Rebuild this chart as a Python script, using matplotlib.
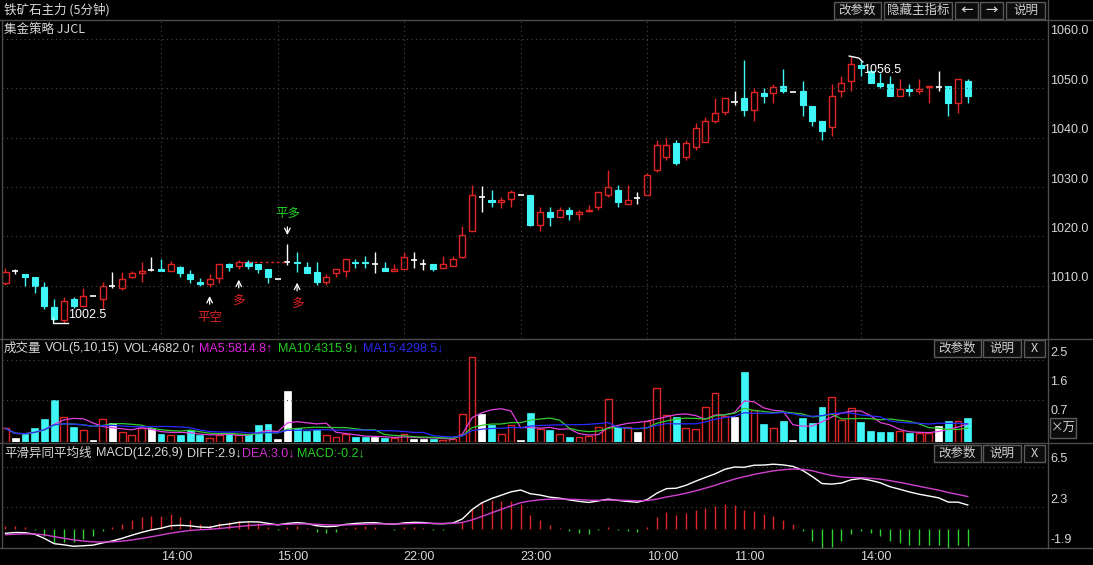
import numpy as np
import matplotlib
matplotlib.use("Agg")
import matplotlib.pyplot as plt
from matplotlib.patches import Rectangle
from matplotlib.lines import Line2D

plt.rcParams['font.family'] = ['Noto Sans CJK SC', 'DejaVu Sans']
LATIN = ['Liberation Sans', 'DejaVu Sans']

# ---- data (5 minute bars, iron ore main contract) ----
open_ = [1010.5, 1012.9, 1012.4, 1011.7, 1009.8, 1005.8, 1003.0, 1007.3, 1006.0, 1007.9,
         1007.3, 1010.0, 1009.5, 1011.8, 1012.6, 1013.2, 1013.4, 1012.9, 1013.9, 1012.4,
         1010.8, 1010.4, 1011.5, 1014.5, 1014.0, 1014.8, 1014.4, 1013.4, 1011.3, 1014.8,
         1014.8, 1013.9, 1012.7, 1010.8, 1012.5, 1012.9, 1014.9, 1014.9, 1014.4, 1013.7,
         1012.9, 1013.4, 1015.2, 1014.5, 1014.4, 1013.5, 1014.0, 1015.8, 1021.0, 1027.9,
         1027.4, 1027.0, 1027.5, 1028.4, 1028.4, 1022.4, 1025.0, 1024.0, 1025.3, 1024.5,
         1025.1, 1026.0, 1028.4, 1029.4, 1026.5, 1027.7, 1028.4, 1033.5, 1036.0, 1038.9,
         1036.1, 1038.0, 1039.1, 1043.4, 1045.1, 1047.3, 1048.0, 1045.5, 1049.0, 1049.1,
         1050.4, 1049.3, 1049.4, 1046.4, 1043.4, 1042.1, 1049.4, 1051.5, 1054.7, 1053.5,
         1051.0, 1050.8, 1048.5, 1049.9, 1049.5, 1050.2, 1050.3, 1050.5, 1047.1, 1051.4]
high = [1013.7, 1013.4, 1012.4, 1011.7, 1010.7, 1007.3, 1007.8, 1007.7, 1009.5, 1007.9,
        1010.7, 1012.7, 1012.7, 1013.0, 1014.8, 1015.9, 1015.4, 1015.0, 1014.0, 1013.2,
        1011.6, 1012.4, 1014.4, 1014.6, 1015.2, 1015.3, 1014.4, 1013.4, 1011.3, 1018.5,
        1016.9, 1014.8, 1014.8, 1012.3, 1013.4, 1015.4, 1015.5, 1016.0, 1016.9, 1014.8,
        1014.4, 1016.9, 1016.9, 1015.5, 1014.4, 1016.0, 1016.0, 1022.0, 1030.4, 1030.1,
        1029.4, 1028.0, 1029.4, 1028.4, 1028.4, 1025.9, 1025.9, 1025.9, 1025.9, 1025.3,
        1026.4, 1028.9, 1033.4, 1030.4, 1030.4, 1029.0, 1032.8, 1039.5, 1040.0, 1039.5,
        1039.5, 1043.0, 1044.2, 1048.0, 1048.0, 1049.4, 1055.8, 1050.0, 1050.0, 1050.9,
        1053.8, 1049.3, 1051.4, 1046.4, 1043.4, 1050.9, 1052.4, 1056.5, 1055.6, 1053.5,
        1053.0, 1052.4, 1051.8, 1050.9, 1051.8, 1050.4, 1053.5, 1050.5, 1051.8, 1051.8]
low = [1010.2, 1012.3, 1010.0, 1008.5, 1005.4, 1003.0, 1002.5, 1005.6, 1005.8, 1007.9,
       1005.4, 1009.5, 1009.1, 1011.5, 1010.8, 1012.9, 1012.9, 1012.9, 1011.8, 1010.5,
       1010.0, 1009.7, 1010.5, 1012.9, 1013.4, 1013.4, 1012.5, 1010.5, 1011.3, 1014.2,
       1012.7, 1012.5, 1010.2, 1010.2, 1011.8, 1011.8, 1013.6, 1013.6, 1012.5, 1012.9,
       1012.9, 1013.4, 1013.6, 1013.2, 1012.9, 1013.5, 1014.0, 1015.6, 1021.0, 1025.0,
       1026.0, 1025.8, 1026.0, 1028.4, 1022.0, 1021.0, 1022.0, 1024.0, 1023.3, 1023.3,
       1025.0, 1025.3, 1028.0, 1026.0, 1026.5, 1026.5, 1028.4, 1033.0, 1035.5, 1034.5,
       1035.5, 1037.5, 1039.1, 1042.9, 1044.6, 1046.6, 1044.4, 1043.4, 1047.1, 1047.1,
       1049.0, 1049.3, 1044.4, 1042.3, 1039.6, 1040.3, 1048.2, 1049.5, 1052.4, 1051.0,
       1050.1, 1048.5, 1048.5, 1048.5, 1048.9, 1047.1, 1049.5, 1044.4, 1045.0, 1047.1]
close = [1012.7, 1012.9, 1011.8, 1010.0, 1006.0, 1003.3, 1006.9, 1006.0, 1007.9, 1007.9,
         1010.0, 1010.0, 1011.3, 1012.5, 1012.9, 1013.2, 1012.9, 1014.4, 1012.5, 1011.4,
         1010.4, 1011.3, 1014.4, 1013.9, 1014.8, 1014.0, 1013.4, 1011.8, 1011.3, 1014.8,
         1014.6, 1012.5, 1010.7, 1011.8, 1013.4, 1015.4, 1014.7, 1014.7, 1014.4, 1012.9,
         1013.4, 1015.8, 1015.2, 1014.5, 1013.4, 1014.4, 1015.4, 1020.3, 1028.4, 1027.9,
         1027.0, 1027.4, 1028.9, 1028.4, 1022.3, 1024.9, 1024.0, 1025.3, 1024.5, 1024.9,
         1025.3, 1028.9, 1029.9, 1027.0, 1027.4, 1027.7, 1032.4, 1038.5, 1038.5, 1034.9,
         1038.9, 1041.9, 1043.4, 1044.9, 1048.0, 1047.3, 1045.5, 1049.3, 1048.5, 1050.3,
         1049.5, 1049.3, 1046.5, 1043.4, 1041.4, 1048.4, 1051.1, 1054.9, 1054.0, 1051.0,
         1050.5, 1048.5, 1049.9, 1049.5, 1049.9, 1050.4, 1050.3, 1047.1, 1051.8, 1048.5]
# volume in 10k lots (x万)
volume = [0.41, 0.10, 0.22, 0.41, 0.68, 1.26, 0.76, 0.45, 0.35, 0.05,
          0.70, 0.56, 0.31, 0.19, 0.41, 0.41, 0.22, 0.19, 0.19, 0.36,
          0.19, 0.12, 0.19, 0.28, 0.19, 0.22, 0.50, 0.53, 0.08, 1.54,
          0.41, 0.33, 0.36, 0.19, 0.15, 0.22, 0.14, 0.15, 0.14, 0.10,
          0.12, 0.22, 0.09, 0.07, 0.09, 0.05, 0.07, 0.86, 2.60, 0.84,
          0.50, 0.24, 0.51, 0.05, 0.87, 0.39, 0.36, 0.22, 0.13, 0.13,
          0.17, 0.44, 1.29, 0.46, 0.44, 0.31, 0.63, 1.63, 0.81, 0.76,
          0.41, 0.38, 1.05, 1.48, 0.78, 0.76, 2.12, 0.97, 0.54, 0.41,
          0.63, 0.05, 0.73, 0.58, 1.05, 1.36, 0.66, 1.02, 0.61, 0.33,
          0.30, 0.30, 0.33, 0.25, 0.25, 0.25, 0.48, 0.63, 0.63, 0.73]

time_ticks = [16, 28, 41, 53, 66, 75, 88]
time_labels = ['14:00', '15:00', '22:00', '23:00', '10:00', '11:00', '14:00']
price_levels = [1010, 1020, 1030, 1040, 1050, 1060]
vol_levels = [0.7, 1.6, 2.5]
macd_levels = [-1.9, 2.3, 6.5]

# trade signals: bar index, label, arrow tip price, label price
buy_signals = [(21, '平空', 1008.5, 1003.5), (24, '多', 1011.8, 1007.0), (30, '多', 1011.2, 1006.4)]
sell_signals = [(29, '平多', 1019.7, 1024.7)]

# MACD(12,26,9) from closes, seeded with the level before the window
def ema(values, span, seed):
    k = 2.0 / (span + 1)
    out = []
    prev = seed
    for v in values:
        prev = prev + k * (v - prev)
        out.append(prev)
    return np.array(out)

diff = ema(close, 12, 1012.2) - ema(close, 26, 1012.7)
dea = ema(diff, 9, -0.6)
macd = 2 * (diff - dea)

vol_arr = np.array(volume)
def rolling(a, n):
    return np.array([a[max(0, i - n + 1):i + 1].mean() for i in range(len(a))])
ma5, ma10, ma15 = rolling(vol_arr, 5), rolling(vol_arr, 10), rolling(vol_arr, 15)

# ---- figure layout (pixel based) ----
W, H = 1093, 565
BG = 'black'
RED = '#e02424'
CYAN = '#3ff5f5'
GRID = '#4a4a4a'
LINE = '#4c4c4c'
TXT = '#d8d8d8'

fig = plt.figure(figsize=(W / 100, H / 100), dpi=100, facecolor=BG)

def fx(x):
    return x / W

def fy(y):
    return 1 - y / H

def panel(y0, y1):
    ax = fig.add_axes([fx(2), fy(y1), fx(1047) - fx(2), fy(y0) - fy(y1)])
    ax.set_facecolor(BG)
    for s in ax.spines.values():
        s.set_visible(False)
    ax.set_xticks([])
    ax.set_yticks([])
    ax.set_xlim(-0.36, 107.15)
    return ax

ax_main = panel(20, 338)
ax_vol = panel(339, 442)
ax_macd = panel(443, 548)
ax_main.set_ylim(999.43, 1063.8)
ax_vol.set_ylim(-0.01, 3.14)
ax_macd.set_ylim(-1.95, 8.94)

n = len(close)
x = np.arange(n)
bw = 0.62

# gridlines
for p in price_levels:
    ax_main.axhline(p, color=GRID, lw=0.8, ls=(0, (1, 3)))
for t in time_ticks:
    ax_main.axvline(t, color=GRID, lw=0.8, ls=(0, (1, 3)))
for v in [2.5, 1.28]:
    ax_vol.axhline(v, color=GRID, lw=0.8, ls=(0, (1, 3)))
for v in [6.5, 2.3]:
    ax_macd.axhline(v, color=GRID, lw=0.8, ls=(0, (1, 3)))

# candles
for i in range(n):
    o, h, l, c = open_[i], high[i], low[i], close[i]
    if c > o:
        ax_main.add_patch(Rectangle((i - bw / 2, o), bw, c - o, fill=False,
                                    edgecolor=RED, lw=1.0))
        ax_main.vlines(i, c, h, color=RED, lw=1.0)
        ax_main.vlines(i, l, o, color=RED, lw=1.0)
    elif c < o:
        ax_main.vlines(i, l, h, color=CYAN, lw=1.0)
        ax_main.add_patch(Rectangle((i - bw / 2, c), bw, o - c, facecolor=CYAN,
                                    edgecolor=CYAN, lw=0.8))
    else:
        ax_main.vlines(i, l, h, color='white', lw=1.0)
        ax_main.hlines(o, i - bw / 2, i + bw / 2, color='white', lw=1.2)

# marks on the price panel
ax_main.plot([4.9, 4.9, 6.4], [1003.5, 1002.5, 1002.5], color='white', lw=1.0)
ax_main.text(6.4, 1004.0, '1002.5', color='white', fontsize=9, ha='left', va='center',
             family=LATIN)
ax_main.plot([86.8, 87.8, 88.2], [1056.5, 1056.1, 1055.3], color='white', lw=1.0)
ax_main.text(88.2, 1053.7, '1056.5', color='white', fontsize=9, ha='left', va='center',
             family=LATIN)
ax_main.plot([24.4, 29], [1014.8, 1014.8], color=RED, lw=1.0, ls=(0, (2, 2)))

for i, label, tip, ty in buy_signals:
    ax_main.annotate('', xy=(i, tip), xytext=(i, tip - 2.8),
                     arrowprops=dict(arrowstyle='->', color='white', lw=0.9))
    ax_main.text(i, ty, label, color=RED, fontsize=9, ha='center', va='center')
for i, label, tip, ty in sell_signals:
    ax_main.annotate('', xy=(i, tip), xytext=(i, tip + 2.8),
                     arrowprops=dict(arrowstyle='->', color='white', lw=0.9))
    ax_main.text(i, ty, label, color='#22d022', fontsize=9, ha='center', va='center')

# volume bars
for i in range(n):
    o, c = open_[i], close[i]
    if c > o:
        ax_vol.add_patch(Rectangle((i - 0.35, 0), 0.7, volume[i], fill=False,
                                   edgecolor=RED, lw=1.0))
    else:
        col = CYAN if c < o else 'white'
        ax_vol.add_patch(Rectangle((i - 0.35, 0), 0.7, volume[i], facecolor=col,
                                   edgecolor=col, lw=0.5))
ax_vol.plot(x, ma5, color='#e040e0', lw=0.9)
ax_vol.plot(x, ma10, color='#30cc30', lw=0.9)
ax_vol.plot(x, ma15, color='#2a2aff', lw=0.9)

# macd
for i in range(n):
    ax_macd.vlines(i, 0, macd[i], color=RED if macd[i] >= 0 else '#33d033', lw=1.0)
ax_macd.plot(x, diff, color='white', lw=1.0)
ax_macd.plot(x, dea, color='#d040d0', lw=1.0)

# right-hand scale labels
for ax, levels in [(ax_main, price_levels), (ax_vol, vol_levels), (ax_macd, macd_levels)]:
    for v in levels:
        ax.annotate('{:.1f}'.format(v), xy=(1.0, v), xycoords=('axes fraction', 'data'),
                    xytext=(2.5, 1), textcoords='offset points', color=TXT,
                    fontsize=9, ha='left', va='bottom', annotation_clip=False,
                    family=LATIN)

# time axis labels
for t, lab in zip(time_ticks, time_labels):
    ax_macd.annotate(lab, xy=(t, 0), xycoords=('data', 'axes fraction'),
                     xytext=(11, -6.3), textcoords='offset points', color=TXT,
                     fontsize=9, ha='center', va='center', annotation_clip=False,
                     family=LATIN)

# separators
def hline(y, x0=0, x1=W, col=LINE):
    fig.lines.append(Line2D([fx(x0), fx(x1)], [fy(y), fy(y)], transform=fig.transFigure,
                            color=col, lw=1.0))

for yy in [20, 338.5, 442.5, 548]:
    hline(yy)
fig.lines.append(Line2D([fx(1047.5), fx(1047.5)], [fy(0), fy(548)], transform=fig.transFigure,
                        color=LINE, lw=1.0))
fig.lines.append(Line2D([fx(1.5), fx(1.5)], [fy(20), fy(548)], transform=fig.transFigure,
                        color=LINE, lw=1.0))

# header texts
fig.text(fx(4), fy(10), '铁矿石主力 (5分钟)', color=TXT, fontsize=9, va='center')
fig.text(fx(4), fy(29), '集金策略 JJCL', color=TXT, fontsize=9, va='center')

fig.text(fx(4), fy(348), '成交量', color=TXT, fontsize=9, va='center')
vol_head = [(45, 'VOL(5,10,15)', TXT), (124, 'VOL:4682.0↑', TXT),
            (199, 'MA5:5814.8↑', '#e020e0'), (278, 'MA10:4315.9↓', '#22cc22'),
            (363, 'MA15:4298.5↓', '#2a2aee')]
for xx, s, col in vol_head:
    fig.text(fx(xx), fy(348), s, color=col, fontsize=9, va='center', family=LATIN)

fig.text(fx(4), fy(453), '平滑异同平均线', color=TXT, fontsize=9, va='center')
macd_head = [(96, 'MACD(12,26,9)', TXT), (187, 'DIFF:2.9↓', TXT),
             (242, 'DEA:3.0↓', '#d030d0'), (297, 'MACD:-0.2↓', '#22cc22')]
for xx, s, col in macd_head:
    fig.text(fx(xx), fy(453), s, color=col, fontsize=9, va='center', family=LATIN)

# buttons
def button(x0, y0, x1, y1, label, bold=False):
    fig.patches.append(Rectangle((fx(x0), fy(y1)), fx(x1) - fx(x0), fy(y0) - fy(y1),
                                 transform=fig.transFigure, facecolor='#0c0c0c',
                                 edgecolor='#5a5a5a', lw=1.0))
    fig.text(fx((x0 + x1) / 2), fy((y0 + y1) / 2), label, color='#d0d0d0', fontsize=9,
             ha='center', va='center', fontweight='bold' if bold else 'normal')

button(834, 2, 881, 19, '改参数')
button(884, 2, 952, 19, '隐藏主指标')
button(955, 2, 978, 19, '←', bold=True)
button(980, 2, 1003, 19, '→', bold=True)
button(1006, 2, 1045, 19, '说明')
for yy in [340, 445]:
    button(934, yy, 981, yy + 17, '改参数')
    button(983, yy, 1021, yy + 17, '说明')
    button(1024, yy, 1045, yy + 17, 'X')
button(1050, 418, 1076, 438, '×万')

fig.savefig('out.png', dpi=100, facecolor=BG)
